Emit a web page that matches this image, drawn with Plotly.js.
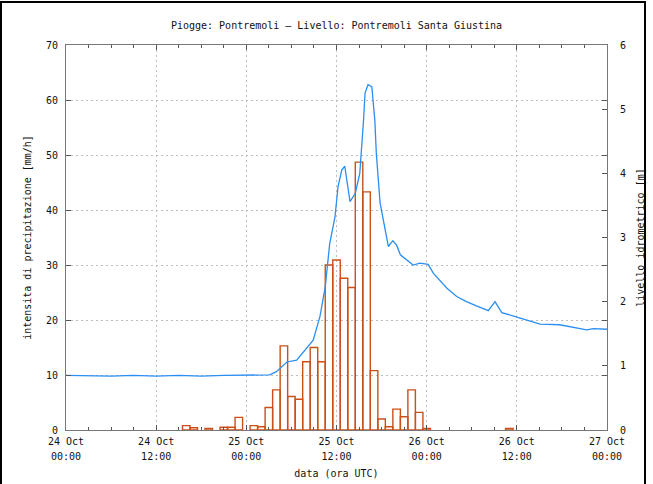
<!DOCTYPE html>
<html>
<head>
<meta charset="utf-8">
<script src="https://cdn.plot.ly/plotly-3.0.1.min.js"></script>
<style>
  html, body { margin: 0; padding: 0; background: #fff; }
  #chart { position: absolute; left: 0; top: 0; width: 653px; height: 484px; }
  #frame { position: absolute; left: 0; top: 1px; width: 642px; height: 500px;
           border: 2px solid #000; border-bottom: none; pointer-events: none; }
</style>
</head>
<body>
<div id="chart"></div>
<div id="frame"></div>
<script>
// Rain intensity (mm/h), hourly
const rainTimes = [
  "2011-10-24 16:00","2011-10-24 17:00","2011-10-24 19:00","2011-10-24 21:00","2011-10-24 22:00",
  "2011-10-24 23:00","2011-10-25 01:00","2011-10-25 02:00","2011-10-25 03:00","2011-10-25 04:00",
  "2011-10-25 05:00","2011-10-25 06:00","2011-10-25 07:00","2011-10-25 08:00","2011-10-25 09:00",
  "2011-10-25 10:00","2011-10-25 11:00","2011-10-25 12:00","2011-10-25 13:00","2011-10-25 14:00",
  "2011-10-25 15:00","2011-10-25 16:00","2011-10-25 17:00","2011-10-25 18:00","2011-10-25 19:00",
  "2011-10-25 20:00","2011-10-25 21:00","2011-10-25 22:00","2011-10-25 23:00","2011-10-26 00:00",
  "2011-10-26 11:00"
];
const rainValues = [
  0.8, 0.4, 0.3, 0.5, 0.5,
  2.3, 0.8, 0.6, 4.1, 7.3,
  15.3, 6.1, 5.6, 12.4, 15.0,
  12.4, 30.0, 30.9, 27.6, 25.9,
  48.7, 43.3, 10.8, 2.0, 0.6,
  3.8, 2.4, 7.3, 3.2, 0.3,
  0.3
];

// Water level (m)
const levelTimes = [
  "2011-10-24 00:00","2011-10-24 03:00","2011-10-24 06:00","2011-10-24 09:00","2011-10-24 12:00",
  "2011-10-24 15:00","2011-10-24 18:00","2011-10-24 21:00","2011-10-25 00:00","2011-10-25 02:00",
  "2011-10-25 03:06","2011-10-25 04:00","2011-10-25 05:24","2011-10-25 06:42","2011-10-25 07:30",
  "2011-10-25 08:54","2011-10-25 09:48","2011-10-25 10:30","2011-10-25 11:06","2011-10-25 11:48",
  "2011-10-25 12:12","2011-10-25 12:42","2011-10-25 13:06","2011-10-25 13:24","2011-10-25 13:48",
  "2011-10-25 14:30","2011-10-25 15:06","2011-10-25 15:36","2011-10-25 15:48","2011-10-25 16:12",
  "2011-10-25 16:42","2011-10-25 17:06","2011-10-25 17:18","2011-10-25 17:48","2011-10-25 18:30",
  "2011-10-25 18:54","2011-10-25 19:30","2011-10-25 20:00","2011-10-25 20:30","2011-10-25 21:18",
  "2011-10-25 22:12","2011-10-25 23:06","2011-10-26 00:12","2011-10-26 00:54","2011-10-26 01:48",
  "2011-10-26 02:42","2011-10-26 04:00","2011-10-26 05:18","2011-10-26 06:42","2011-10-26 08:12",
  "2011-10-26 09:06","2011-10-26 10:00","2011-10-26 12:00","2011-10-26 13:48","2011-10-26 15:06",
  "2011-10-26 17:42","2011-10-26 20:00","2011-10-26 21:18","2011-10-26 22:12","2011-10-27 00:00"
];
const levelValues = [
  0.85, 0.84, 0.84, 0.85, 0.84,
  0.85, 0.84, 0.85, 0.85, 0.85,
  0.86, 0.91, 1.06, 1.09, 1.20,
  1.40, 1.77, 2.23, 2.91, 3.32,
  3.79, 4.05, 4.11, 3.84, 3.56,
  3.69, 4.00, 4.83, 5.25, 5.38,
  5.35, 4.83, 4.31, 3.54, 3.07,
  2.86, 2.95, 2.88, 2.73, 2.65,
  2.57, 2.60, 2.58, 2.44, 2.32,
  2.21, 2.08, 2.00, 1.93, 1.86,
  2.00, 1.83, 1.76, 1.69, 1.65,
  1.64, 1.59, 1.56, 1.58, 1.57
];

const titleText = "Piogge: Pontremoli \u2013 Livello: Pontremoli Santa Giustina";
const xTitle = "data (ora UTC)";
const yTitle = "intensita di precipitazione [mm/h]";
const y2Title = "livello idrometrico [m]";
const xRange = ["2011-10-24 00:00", "2011-10-27 00:00"];

const FONT = "DejaVu Sans Mono, monospace";
const HOUR = 3600000;
const GRID = { showgrid: true, gridcolor: "#bdbdbd", griddash: "2px,3px", gridwidth: 1 };

const traces = [
  {
    type: "bar", x: rainTimes, y: rainValues, xaxis: "x", yaxis: "y",
    width: HOUR,
    marker: { color: "rgba(0,0,0,0)", line: { color: "#c9501a", width: 1.4 } },
    hoverinfo: "x+y"
  },
  {
    type: "scatter", mode: "lines", x: levelTimes, y: levelValues, xaxis: "x2", yaxis: "y2",
    line: { color: "#2b8ef2", width: 1.3 }
  }
];

const layout = {
  width: 653, height: 484,
  margin: { l: 66, r: 46, t: 45, b: 54 },
  paper_bgcolor: "#fff", plot_bgcolor: "#fff",
  showlegend: false,
  bargap: 0,
  font: { family: FONT, size: 10, color: "#111" },
  title: { text: titleText, font: { family: FONT, size: 10, color: "#111" },
           x: 0.5, xref: "paper", y: 1 - 25 / 484, yref: "container", yanchor: "middle" },
  xaxis: Object.assign({
    type: "date", range: xRange, dtick: 12 * HOUR, tick0: xRange[0],
    tickformat: "%d %b", ticks: "inside", ticklen: 5, tickcolor: "#555",
    minor: { dtick: 3 * HOUR, ticks: "inside", ticklen: 3, tickcolor: "#555" },
    showline: true, linecolor: "#777", linewidth: 1, mirror: "allticks",
    zeroline: false, ticklabelstandoff: 2,
    tickfont: { family: FONT, size: 10, color: "#111" }
  }, GRID),
  xaxis2: {
    type: "date", range: xRange, dtick: 12 * HOUR, tick0: xRange[0],
    overlaying: "x", anchor: "y2", side: "bottom",
    tickformat: "%H:%M", ticks: "", showline: false, showgrid: false, zeroline: false,
    ticklabelstandoff: 19,
    tickfont: { family: FONT, size: 10, color: "#111" },
    title: { text: xTitle, font: { family: FONT, size: 10, color: "#111" }, standoff: 8 }
  },
  yaxis: Object.assign({
    range: [0, 70], dtick: 10, ticks: "inside", ticklen: 5, tickcolor: "#555",
    showline: true, linecolor: "#777", linewidth: 1, mirror: "allticks",
    zeroline: false, ticklabelstandoff: 5,
    tickfont: { family: FONT, size: 10, color: "#111" },
    title: { text: yTitle, font: { family: FONT, size: 10, color: "#111" }, standoff: 12 }
  }, GRID),
  yaxis2: {
    range: [0, 6], dtick: 1, overlaying: "y", side: "right", anchor: "x",
    ticks: "inside", ticklen: 5, tickcolor: "#555",
    showline: false, showgrid: false, zeroline: false, ticklabelstandoff: 12,
    tickfont: { family: FONT, size: 10, color: "#111" },
    title: { text: y2Title, font: { family: FONT, size: 10, color: "#111" }, standoff: 11 }
  }
};

Plotly.newPlot("chart", traces, layout, { displayModeBar: false, staticPlot: true });
</script>
</body>
</html>
